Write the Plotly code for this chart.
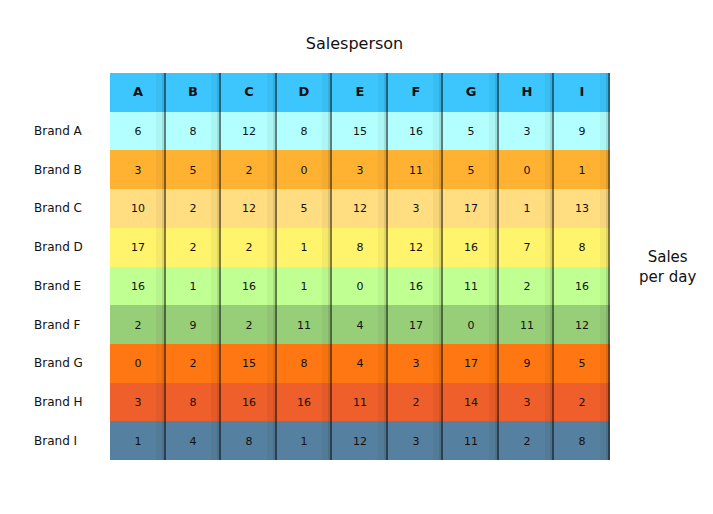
import plotly.graph_objects as go

salespeople = ["A", "B", "C", "D", "E", "F", "G", "H", "I"]
brands = ["Brand A", "Brand B", "Brand C", "Brand D", "Brand E",
          "Brand F", "Brand G", "Brand H", "Brand I"]

# sales per day, one list per brand (columns A..I)
brand_a = [6, 8, 12, 8, 15, 16, 5, 3, 9]
brand_b = [3, 5, 2, 0, 3, 11, 5, 0, 1]
brand_c = [10, 2, 12, 5, 12, 3, 17, 1, 13]
brand_d = [17, 2, 2, 1, 8, 12, 16, 7, 8]
brand_e = [16, 1, 16, 1, 0, 16, 11, 2, 16]
brand_f = [2, 9, 2, 11, 4, 17, 0, 11, 12]
brand_g = [0, 2, 15, 8, 4, 3, 17, 9, 5]
brand_h = [3, 8, 16, 16, 11, 2, 14, 3, 2]
brand_i = [1, 4, 8, 1, 12, 3, 11, 2, 8]

header_color = "#3cc6fd"
row_colors = ["#b3ffff", "#ffb232", "#ffdd80", "#fff46c", "#c0ff91",
              "#97ce78", "#ff7712", "#ee5f2b", "#56809f"]

rows = [brand_a, brand_b, brand_c, brand_d, brand_e,
        brand_f, brand_g, brand_h, brand_i]

ncol = len(salespeople)
y_keys = ["hdr"] + brands
z = [[0] * ncol] + [[i + 1] * ncol for i in range(len(brands))]
text = [["<span style='font-size:13px'><b>%s</b></span>" % s for s in salespeople]] + \
       [[str(v) for v in r] for r in rows]

colors = [header_color] + row_colors
n = len(colors) - 1
cscale = [[i / n, c] for i, c in enumerate(colors)]

fig = go.Figure(go.Heatmap(
    x=list(range(ncol)), y=y_keys, z=z, text=text, texttemplate="%{text}",
    textfont=dict(family="DejaVu Sans", size=11, color="#111111"),
    colorscale=cscale, zmin=0, zmax=n, showscale=False,
    hoverinfo="skip",
))

# thin dark edge on the right side of each column
steps = 28
sx, sz = [], []
for c in range(ncol):
    for k in range(steps):
        t = (k + 0.5) / steps
        sx.append(c - 0.5 + t)
        if k == steps - 1:
            sz.append(-1.0)
        elif k == steps - 2:
            sz.append(-0.25)
        elif k >= steps - 5:
            sz.append(-0.08)
        else:
            sz.append(0.0)
fig.add_trace(go.Heatmap(
    x=sx, y=y_keys, z=[sz] * len(y_keys), zmin=-1, zmax=0, showscale=False,
    colorscale=[[0, "rgba(0,0,0,0.5)"], [1, "rgba(0,0,0,0)"]],
    hoverinfo="skip",
))

fig.update_layout(
    width=713, height=514,
    margin=dict(l=102, r=111, t=65, b=62),
    paper_bgcolor="white", plot_bgcolor="white",
    font=dict(family="DejaVu Sans", size=12, color="#111111"),
    title=dict(text="Salesperson", x=0.486, xanchor="center", y=0.932,
               yanchor="middle", font=dict(size=16)),
    xaxis=dict(showticklabels=False, showgrid=False, zeroline=False, ticks="",
               range=[-0.5, ncol - 0.5]),
    yaxis=dict(autorange="reversed", showgrid=False, zeroline=False, ticks="",
               showticklabels=False),
    annotations=[dict(text=b, xref="paper", yref="y", x=-0.156, y=b,
                      xanchor="left", showarrow=False, font=dict(size=12))
                 for b in brands] +
                [dict(text="Sales<br>per day", xref="paper", yref="paper",
                      x=1.114, y=0.5, showarrow=False, font=dict(size=15),
                      xanchor="center", yanchor="middle")],
)

fig.write_html("out.html")
